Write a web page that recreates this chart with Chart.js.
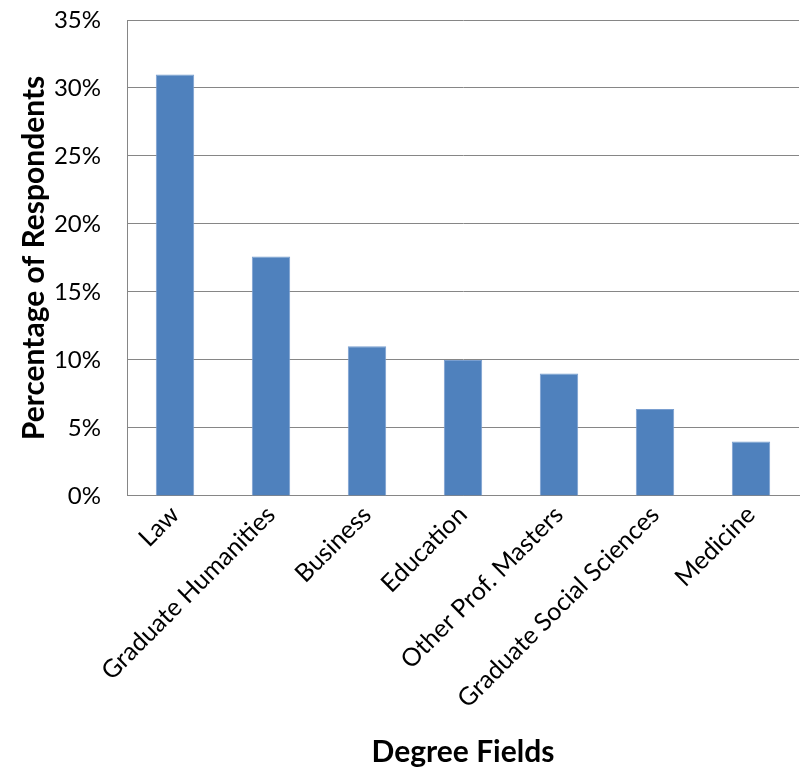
<!DOCTYPE html>
<html>
<head>
<meta charset="utf-8">
<script src="https://cdn.jsdelivr.net/npm/chart.js@4/dist/chart.umd.min.js"></script>
<style>
  html, body { margin: 0; padding: 0; background: #fff; }
</style>
</head>
<body>
<canvas id="myChart" width="801" height="772"></canvas>
<script>
var fields = ['Law', 'Graduate Humanities', 'Business', 'Education', 'Other Prof. Masters', 'Graduate Social Sciences', 'Medicine'];
var respondents = [31, 17.6, 11, 10, 9, 6.4, 4];
var yTicks = [0, 5, 10, 15, 20, 25, 30, 35];

var gridGrey = '#868686';
var fontName = 'Lato, "Open Sans", sans-serif';

var ctx = document.getElementById('myChart');
var myChart = new Chart(ctx, {
    type: 'bar',
    data: {
        labels: fields,
        datasets: [{
            label: 'Percentage of Respondents',
            data: respondents,
            backgroundColor: '#4F81BD',
            borderColor: '#7A9FD0',
            borderWidth: 1,
            barPercentage: 0.4,
            categoryPercentage: 1
        }]
    },
    options: {
        responsive: false,
        animation: false,
        layout: {
            padding: { top: 20, right: 2, left: 16, bottom: 2 }
        },
        plugins: {
            legend: { display: false },
            tooltip: { enabled: false }
        },
        scales: {
            x: {
                // rotated labels otherwise push the plot area right/down
                afterFit: function (scale) {
                    scale.paddingLeft = 0;
                    scale.paddingRight = 0;
                    scale.paddingTop = 0;
                },
                grid: { display: false, drawTicks: false },
                border: { display: true, color: gridGrey, width: 1 },
                ticks: {
                    color: '#000',
                    font: { family: fontName, size: 25 },
                    minRotation: 45,
                    maxRotation: 45,
                    padding: 4
                },
                title: {
                    display: true,
                    text: 'Degree Fields',
                    color: '#000',
                    font: { family: fontName, size: 30, weight: 'bold' },
                    padding: { top: 16, bottom: 0 }
                }
            },
            y: {
                min: 0,
                max: 35,
                afterBuildTicks: function (scale) {
                    scale.ticks = yTicks.map(function (v) { return { value: v }; });
                },
                afterFit: function (scale) {
                    scale.paddingTop = 0;
                    scale.paddingBottom = 0;
                    scale.width = 111;
                },
                grid: { color: gridGrey, lineWidth: 1, drawTicks: false },
                border: { display: true, color: gridGrey, width: 1 },
                ticks: {
                    color: '#000',
                    font: { family: fontName, size: 24 },
                    padding: 26,
                    callback: function (v) { return v + '%'; }
                },
                title: {
                    display: true,
                    text: 'Percentage of Respondents',
                    color: '#000',
                    font: { family: fontName, size: 30, weight: 'bold' },
                    padding: { top: 0, bottom: 4 }
                }
            }
        }
    }
});
</script>
</body>
</html>
